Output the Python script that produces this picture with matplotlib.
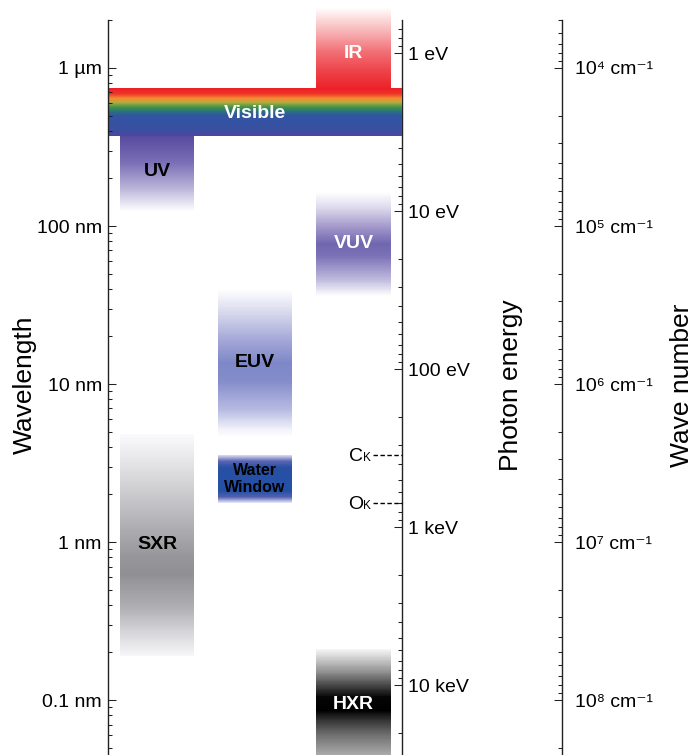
import numpy as np
import matplotlib
matplotlib.use("Agg")
import matplotlib.pyplot as plt
from matplotlib.colors import LinearSegmentedColormap
from matplotlib.ticker import NullFormatter

plt.rcParams["font.family"] = ["Liberation Sans", "DejaVu Sans"]

HC = 1239.84  # eV * nm

# ---- data -------------------------------------------------------------
# absorption edges marked on the photon-energy scale (eV)
edge_names = ["C", "O"]
edge_ev = [350.0, 700.0]

# spectral regions: long- and short-wavelength ends (nm)
band_names = ["IR", "Visible", "UV", "VUV", "EUV", "Water\nWindow", "SXR", "HXR"]
band_long_nm = [2400, 750, 370, 165, 40, HC / edge_ev[0], 4.8, 0.21]
band_short_nm = [750, 370, 125, 36, 4.6, HC / edge_ev[1], 0.19, 0.03]

# scale ticks
wl_major_nm = [1000, 100, 10, 1, 0.1]
wl_labels = ["1 \u00b5m", "100 nm", "10 nm", "1 nm", "0.1 nm"]
ev_major = [1, 10, 100, 1000, 10000]
ev_labels = ["1 eV", "10 eV", "100 eV", "1 keV", "10 keV"]
wn_major = [1e4, 1e5, 1e6, 1e7, 1e8]
wn_labels = ["10\u2074 cm\u207b\u00b9", "10\u2075 cm\u207b\u00b9",
             "10\u2076 cm\u207b\u00b9", "10\u2077 cm\u207b\u00b9",
             "10\u2078 cm\u207b\u00b9"]

# ---- layout / style ----------------------------------------------------
W, H = 697, 755
VIEW_NM = (0.0449, 2693)      # visible wavelength window (bottom, top)
SCALE_TOP_NM = 2000           # where the three scale lines start
X_WL, X_EV, X_WN = 108, 402, 562
COLUMNS = {"left": (120, 194), "mid": (218, 292), "right": (316, 391),
           "full": (X_WL, X_EV)}

band_column = ["right", "full", "left", "right", "mid", "mid", "left", "right"]
band_text_color = ["white", "white", "black", "white", "black", "black",
                   "black", "white"]
band_text_size = [14, 14, 14, 14, 14, 11.5, 14, 14]
band_label_frac = [0.55, 0.5, 0.45, 0.48, 0.48, 0.5, 0.49, 0.40]

def grey(v, tint=0):
    return (v, v, min(255, v + tint))

band_stops = [
    # IR
    [(0, (255, 252, 252)), (0.3, (247, 178, 180)), (0.55, (241, 112, 118)),
     (0.8, (237, 66, 72)), (1, (236, 36, 42))],
    # Visible
    [(0, (236, 30, 38)), (0.12, (238, 52, 40)), (0.22, (244, 140, 52)),
     (0.30, (180, 172, 62)), (0.40, (62, 148, 72)), (0.50, (44, 108, 132)),
     (0.58, (50, 84, 164)), (0.85, (56, 80, 160)), (1, (76, 70, 160))],
    # UV
    [(0, (88, 74, 158)), (0.35, (122, 110, 182)), (0.7, (186, 180, 216)),
     (1, (252, 252, 254))],
    # VUV
    [(0, (255, 255, 255)), (0.15, (222, 218, 236)), (0.35, (158, 148, 200)),
     (0.5, (112, 102, 176)), (0.62, (124, 114, 182)), (0.85, (192, 188, 222)),
     (1, (255, 255, 255))],
    # EUV
    [(0, (255, 255, 255)), (0.15, (218, 218, 238)), (0.35, (162, 166, 214)),
     (0.5, (126, 136, 200)), (0.62, (132, 140, 202)), (0.82, (184, 188, 226)),
     (0.95, (242, 242, 250)), (1, (255, 255, 255))],
    # Water window
    [(0, (215, 215, 240)), (0.12, (90, 100, 180)), (0.25, (40, 80, 165)),
     (0.75, (35, 80, 165)), (0.88, (80, 95, 175)), (1, (228, 228, 245))],
    # SXR
    [(0, grey(250, 2)), (0.2, grey(215, 3)), (0.4, grey(178, 4)),
     (0.55, grey(150, 5)), (0.63, grey(143, 5)), (0.78, grey(175, 4)),
     (0.9, grey(215, 3)), (1, grey(246, 2))],
    # HXR
    [(0, grey(245)), (0.067, grey(205)), (0.16, grey(150)), (0.29, grey(55)),
     (0.36, grey(5)), (0.46, grey(0)), (0.53, grey(50)), (0.63, grey(105)),
     (0.78, grey(165)), (1, grey(240))],
]

SPINE_C = "#222222"
TICK_FS = 14


def nm_to_ev(x):
    x = np.asarray(x, dtype=float)
    with np.errstate(divide="ignore", invalid="ignore"):
        return HC / x


def nm_to_wn(x):
    x = np.asarray(x, dtype=float)
    with np.errstate(divide="ignore", invalid="ignore"):
        return 1e7 / x


def minor_ticks(lo, hi):
    lo, hi = sorted((lo, hi))
    out = []
    for k in range(int(np.floor(np.log10(lo))), int(np.ceil(np.log10(hi))) + 1):
        for m in range(2, 10):
            v = m * 10.0 ** k
            if lo * (1 - 1e-9) <= v <= hi * (1 + 1e-9):
                out.append(v)
    return out


fig = plt.figure(figsize=(W / 100, H / 100), dpi=100)
ax = fig.add_axes([0, 0, 1, 1])
ax.patch.set_visible(False)
ax.set_xlim(0, W)
ax.set_yscale("log")
ax.set_ylim(*VIEW_NM)

# ---- spectral bands ------------------------------------------------------
for name, lng, sht, col, stops, tc, ts, lf in zip(
        band_names, band_long_nm, band_short_nm, band_column, band_stops,
        band_text_color, band_text_size, band_label_frac):
    x0, x1 = COLUMNS[col]
    n = 240
    yedges = np.geomspace(lng, sht, n + 1)
    vals = np.linspace(0, 1, n)[:, None]
    cmap = LinearSegmentedColormap.from_list(
        name, [(f, np.array(c) / 255.0) for f, c in stops])
    ax.pcolormesh([x0, x1], yedges, vals, cmap=cmap, vmin=0, vmax=1,
                  shading="flat", antialiased=False, linewidth=0)
    y_lab = lng * (sht / lng) ** lf
    va = "center" if "\n" in name else "center_baseline"
    ax.text((x0 + x1) / 2, y_lab, name, color=tc, fontsize=ts,
            fontweight="bold", ha="center", va=va, linespacing=1.15)

# ---- wavelength scale ----------------------------------------------------
for s in ("top", "bottom", "right"):
    ax.spines[s].set_visible(False)
ax.xaxis.set_visible(False)
ax.spines["left"].set_position(("data", X_WL))
ax.spines["left"].set_bounds(VIEW_NM[0], SCALE_TOP_NM)
ax.spines["left"].set_color(SPINE_C)
ax.spines["left"].set_linewidth(1.0)
ax.set_yticks(wl_major_nm, labels=wl_labels)
ax.set_yticks(minor_ticks(VIEW_NM[0], SCALE_TOP_NM), minor=True)
ax.yaxis.set_minor_formatter(NullFormatter())
ax.tick_params(axis="y", which="both", direction="in", color=SPINE_C,
               width=0.75, labelsize=TICK_FS, pad=4.5)
ax.tick_params(axis="y", which="major", length=5.8)
ax.tick_params(axis="y", which="minor", length=2.9)

# ---- photon energy and wave number scales --------------------------------
def make_scale(xpos, fwd, majors, labels, pad):
    sec = ax.secondary_yaxis(xpos, functions=(fwd, fwd), transform=ax.transData)
    lo = float(fwd(VIEW_NM[0]))
    top = float(fwd(SCALE_TOP_NM))
    sec.set_yticks(majors, labels=labels)
    sec.set_yticks(minor_ticks(lo, top), minor=True)
    sec.yaxis.set_minor_formatter(NullFormatter())
    sec.spines["right"].set_bounds(lo, top)
    sec.spines["right"].set_color(SPINE_C)
    sec.spines["right"].set_linewidth(1.0)
    sec.tick_params(axis="y", which="both", direction="in", color=SPINE_C,
                    width=0.75, labelsize=TICK_FS, pad=pad)
    sec.tick_params(axis="y", which="major", length=5.8)
    sec.tick_params(axis="y", which="minor", length=2.9)
    return sec

make_scale(X_EV, nm_to_ev, ev_major, ev_labels, 4.5)
make_scale(X_WN, nm_to_wn, wn_major, wn_labels, 9.5)

# ---- absorption edge markers --------------------------------------------
for nm_, ev in zip(edge_names, edge_ev):
    lam = HC / ev
    ax.hlines(lam, 373, X_EV, colors="black", linewidth=1.0,
              linestyles=(0, (3.2, 1.8)))
    ax.annotate(nm_, xy=(363, lam), xytext=(0, -4.4), textcoords="offset points",
                ha="right", va="baseline", fontsize=14)
    ax.annotate("K", xy=(363.5, lam), xytext=(0, -4.4),
                textcoords="offset points", ha="left", va="baseline",
                fontsize=8.5)

# ---- scale titles --------------------------------------------------------
for xpx, title in [(25, "Wavelength"), (511, "Photon energy"), (682, "Wave number")]:
    fig.text(xpx / W, 1 - 385 / H, title, rotation=90, fontsize=19,
             ha="center", va="center")

fig.savefig("out.png", dpi=100, facecolor="white")
